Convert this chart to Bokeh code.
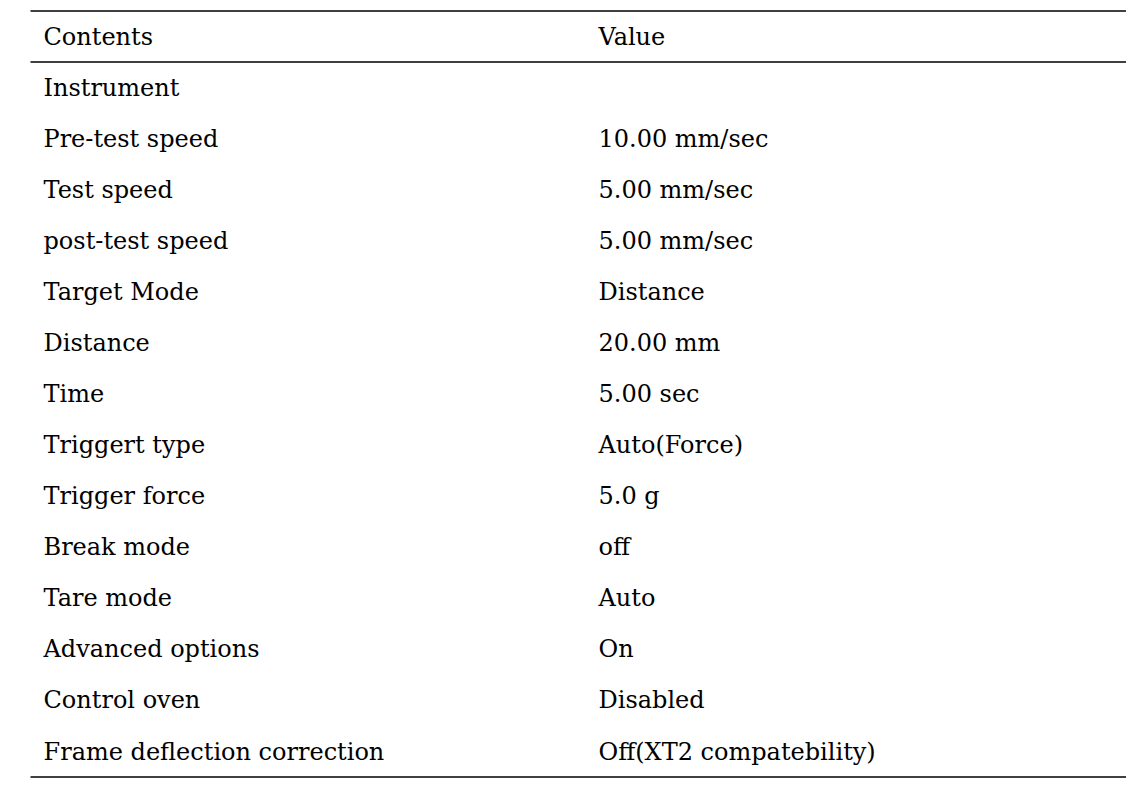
from bokeh.plotting import figure
from bokeh.models import Range1d, ColumnDataSource
from bokeh.core.properties import value
from bokeh.embed import file_html
from bokeh.resources import INLINE

header = ["Contents", "Value"]
contents = ["Instrument", "Pre-test speed", "Test speed", "post-test speed", "Target Mode",
            "Distance", "Time", "Triggert type", "Trigger force", "Break mode", "Tare mode",
            "Advanced options", "Control oven", "Frame deflection correction"]
values = ["", "10.00 mm/sec", "5.00 mm/sec", "5.00 mm/sec", "Distance",
          "20.00 mm", "5.00 sec", "Auto(Force)", "5.0 g", "off", "Auto",
          "On", "Disabled", "Off(XT2 compatebility)"]

FONT = "DejaVu Serif"
W, H = 1126, 784
p = figure(width=W, height=H, output_backend="svg", toolbar_location=None,
           x_range=Range1d(0, W), y_range=Range1d(14.646, -0.705),
           min_border=0, outline_line_color=None)
p.axis.visible = False
p.grid.visible = False
p.background_fill_color = "white"
p.border_fill_color = "white"

col1_x, col2_x = 43, 598
n = len(contents)
rows = list(range(1, n + 1))

src = ColumnDataSource(dict(
    x=[col1_x, col2_x] + [col1_x] * n + [col2_x] * n,
    y=[0, 0] + rows + rows,
    t=header + contents + values,
))
p.text(x="x", y="y", text="t", source=src, text_font=value(FONT), text_font_size="24px",
       text_baseline="middle", text_align="left", text_color="#000000")

# rules: top, below header, bottom
p.segment(x0=[30, 30, 30], x1=[1130, 1130, 1130], y0=[-0.5, 0.5, n + 0.5], y1=[-0.5, 0.5, n + 0.5],
          line_color="black", line_width=1.5)

open("out.html", "w").write(file_html(p, INLINE))
